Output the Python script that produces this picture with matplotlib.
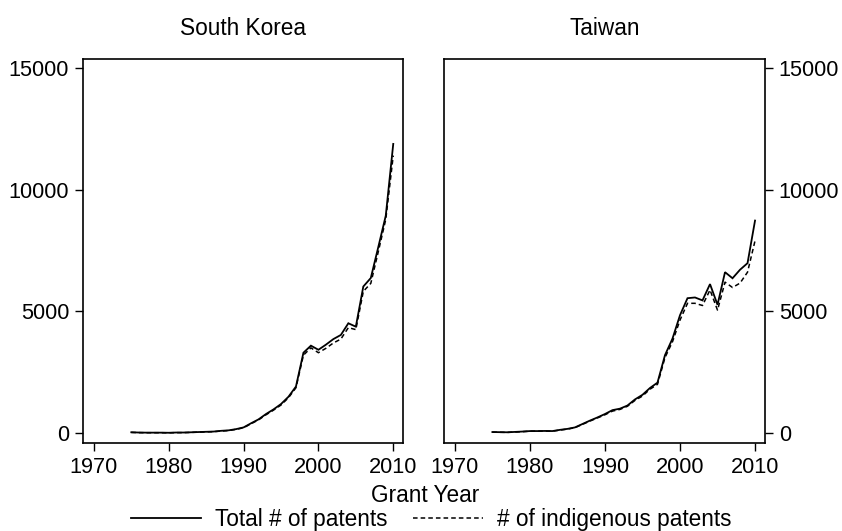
import matplotlib as mpl
import matplotlib.pyplot as plt
import numpy as np

#-------------------------------------------------------------------------------
# Data (granted patents per year)

years = list(range(1975, 2011))

korea_total = [30, 20, 15, 15, 15, 10, 20, 20, 30, 40,
               50, 60, 90, 110, 160, 230, 400, 560, 780, 970,
               1190, 1490, 1910, 3300, 3590, 3420, 3630, 3860, 4030, 4510,
               4370, 6020, 6370, 7640, 8930, 11880]
korea_indig = [25, 15, 12, 12, 12, 8, 15, 15, 25, 35,
               45, 55, 80, 100, 150, 215, 380, 540, 750, 940,
               1150, 1450, 1860, 3200, 3500, 3300, 3480, 3700, 3860, 4330,
               4250, 5820, 6150, 7450, 8780, 11400]

taiwan_total = [40, 35, 30, 45, 60, 80, 80, 85, 80, 130,
                170, 230, 370, 510, 640, 780, 940, 1000, 1130, 1380,
                1570, 1850, 2070, 3200, 3880, 4840, 5540, 5570, 5450, 6120,
                5270, 6610, 6360, 6710, 6980, 8730]
taiwan_indig = [35, 30, 25, 40, 55, 75, 75, 80, 75, 120,
                160, 220, 355, 490, 620, 750, 900, 970, 1100, 1340,
                1520, 1800, 2000, 3100, 3750, 4640, 5330, 5330, 5240, 5880,
                5050, 6200, 5980, 6160, 6610, 7900]

panels = [("South Korea", korea_total, korea_indig, "left"),
          ("Taiwan", taiwan_total, taiwan_indig, "right")]

x_ticks = [1970, 1980, 1990, 2000, 2010]
y_ticks = [0, 5000, 10000, 15000]

#-------------------------------------------------------------------------------

def main():
  mpl.rcParams['font.family'] = ['Liberation Sans', 'DejaVu Sans']
  fs_tick = 15.7
  fs_text = 16.3

  fig = plt.figure(figsize=(8.42, 5.31), dpi=100)

  # axes rectangles in figure fractions
  rects = [[0.0986, 0.1657, 0.380, 0.7232],
           [0.5273, 0.1657, 0.381, 0.7232]]

  lines = []
  for rect, (name, total, indig, side) in zip(rects, panels):
    ax = fig.add_axes(rect)
    l1, = ax.plot(years, total, color='black', lw=1.3, solid_joinstyle='miter')
    l2, = ax.plot(years, indig, color='black', lw=1.1, dashes=(3.0, 2.0))
    lines = [l1, l2]

    ax.set_xlim(1968.55, 2011.3)
    ax.set_ylim(-411, 15370)
    ax.set_xticks(x_ticks)
    ax.set_yticks(y_ticks)
    ax.tick_params(direction='out', length=6, width=1.0, labelsize=fs_tick, pad=4)
    if side == "right":
      ax.yaxis.tick_right()
      ax.yaxis.set_label_position("right")
    for sp in ax.spines.values():
      sp.set_linewidth(1.2)
    ax.set_title(name, fontsize=fs_text, pad=17)

  fig.text(0.505, 0.066, "Grant Year", ha='center', va='center', fontsize=fs_text)

  fig.legend(lines, ["Total # of patents", "# of indigenous patents"],
             loc='center', bbox_to_anchor=(0.512, 0.022), ncol=2, frameon=False,
             fontsize=fs_text, handlelength=3.1, handletextpad=0.62,
             columnspacing=1.1, borderpad=0.0)

  fig.savefig("out.png", dpi=100)
  plt.close(fig)

#-------------------------------------------------------------------------------

if __name__ == "__main__":
  main()
